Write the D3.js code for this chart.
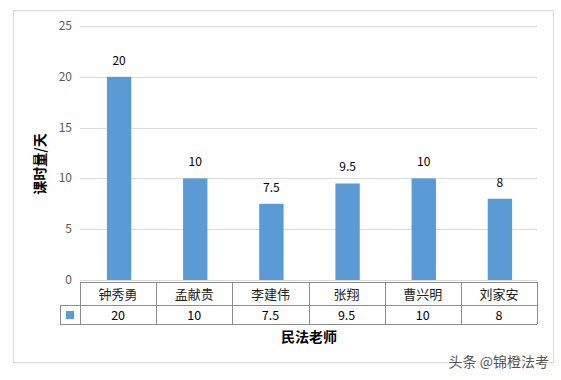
<!DOCTYPE html>
<html>
<head>
<meta charset="utf-8">
<script src="https://cdn.jsdelivr.net/npm/d3@7"></script>
<style>
  body { margin: 0; background: #fff; }
  svg text { font-family: "Noto Sans CJK SC", "Noto Sans", sans-serif; }
</style>
</head>
<body>
<div id="chart"></div>
<script>
// data
var teachers = ["钟秀勇", "孟献贵", "李建伟", "张翔", "曹兴明", "刘家安"];
var hours = [20, 10, 7.5, 9.5, 10, 8];
var yTicks = [0, 5, 10, 15, 20, 25];

var width = 561, height = 380;
var margin = { top: 26, right: 24, bottom: 100, left: 80 };
var barColor = "#5B9BD5";

var svg = d3.select("#chart").append("svg")
  .attr("width", width)
  .attr("height", height);

// outer chart border
svg.append("rect")
  .attr("x", 13.5).attr("y", 10.5)
  .attr("width", 540).attr("height", 352)
  .attr("fill", "#fff")
  .attr("stroke", "#d9d9d9");

var x = d3.scaleBand()
  .domain(teachers)
  .range([margin.left, width - margin.right]);

var y = d3.scaleLinear()
  .domain([0, 25])
  .range([height - margin.bottom, margin.top]);

// gridlines
svg.append("g")
  .selectAll("line")
  .data(yTicks)
  .join("line")
    .attr("x1", margin.left)
    .attr("x2", width - margin.right)
    .attr("y1", d => Math.round(y(d)) + 0.5)
    .attr("y2", d => Math.round(y(d)) + 0.5)
    .attr("stroke", "#d9d9d9");

// y axis labels
svg.append("g")
  .selectAll("text")
  .data(yTicks)
  .join("text")
    .attr("x", 72)
    .attr("y", d => y(d) + 4)
    .attr("text-anchor", "end")
    .attr("font-size", "12px")
    .attr("fill", "#595959")
    .text(d => d);

// bars
var barW = x.bandwidth() * 0.32;
svg.append("g")
  .attr("fill", barColor)
  .selectAll("rect")
  .data(hours)
  .join("rect")
    .attr("x", (d, i) => x(teachers[i]) + x.bandwidth() / 2 - barW / 2 + 1)
    .attr("y", d => y(d))
    .attr("width", barW)
    .attr("height", d => y(0) - y(d));

// data labels
svg.append("g")
  .selectAll("text")
  .data(hours)
  .join("text")
    .attr("x", (d, i) => x(teachers[i]) + x.bandwidth() / 2 + 1)
    .attr("y", d => y(d) - 12)
    .attr("text-anchor", "middle")
    .attr("font-size", "12px")
    .attr("fill", "#000")
    .text(d => d);

// data table under the plot
var row1 = y(0) + 2, row2 = row1 + 23, row3 = row2 + 19;
var tbl = svg.append("g").attr("stroke", "#8c8c8c").attr("fill", "none");
tbl.append("line").attr("x1", margin.left).attr("x2", width - margin.right)
  .attr("y1", row1 + 0.5).attr("y2", row1 + 0.5);
tbl.append("line").attr("x1", 60).attr("x2", width - margin.right)
  .attr("y1", row2 + 0.5).attr("y2", row2 + 0.5);
tbl.append("line").attr("x1", 60).attr("x2", width - margin.right)
  .attr("y1", row3 + 0.5).attr("y2", row3 + 0.5);
tbl.append("line").attr("x1", 60.5).attr("x2", 60.5)
  .attr("y1", row2).attr("y2", row3);
tbl.selectAll(".col")
  .data(teachers.map(t => x(t)).concat([width - margin.right]))
  .join("line")
    .attr("x1", d => Math.round(d) + 0.5)
    .attr("x2", d => Math.round(d) + 0.5)
    .attr("y1", row1).attr("y2", row3);

svg.append("g")
  .selectAll("text")
  .data(teachers)
  .join("text")
    .attr("x", d => x(d) + x.bandwidth() / 2)
    .attr("y", row1 + 17)
    .attr("text-anchor", "middle")
    .attr("font-size", "13px")
    .attr("fill", "#222")
    .text(d => d);

svg.append("g")
  .selectAll("text")
  .data(hours)
  .join("text")
    .attr("x", (d, i) => x(teachers[i]) + x.bandwidth() / 2)
    .attr("y", row2 + 14.5)
    .attr("text-anchor", "middle")
    .attr("font-size", "12.5px")
    .attr("fill", "#000")
    .text(d => d);

// legend key in table
svg.append("rect")
  .attr("x", 66).attr("y", row2 + 6)
  .attr("width", 8).attr("height", 8)
  .attr("fill", barColor);

// axis titles
svg.append("text")
  .attr("x", 309)
  .attr("y", 342)
  .attr("text-anchor", "middle")
  .attr("font-size", "14px")
  .attr("font-weight", "bold")
  .attr("fill", "#000")
  .text("民法老师");

svg.append("text")
  .attr("transform", "translate(45,164) rotate(-90)")
  .attr("text-anchor", "middle")
  .attr("font-size", "14px")
  .attr("font-weight", "bold")
  .attr("fill", "#000")
  .text("课时量/天");

// watermark
svg.append("text")
  .attr("x", 549)
  .attr("y", 367)
  .attr("text-anchor", "end")
  .attr("font-size", "14px")
  .attr("fill", "#555")
  .attr("stroke", "#fff")
  .attr("stroke-width", 3)
  .attr("paint-order", "stroke")
  .text("头条 @锦橙法考");
</script>
</body>
</html>
